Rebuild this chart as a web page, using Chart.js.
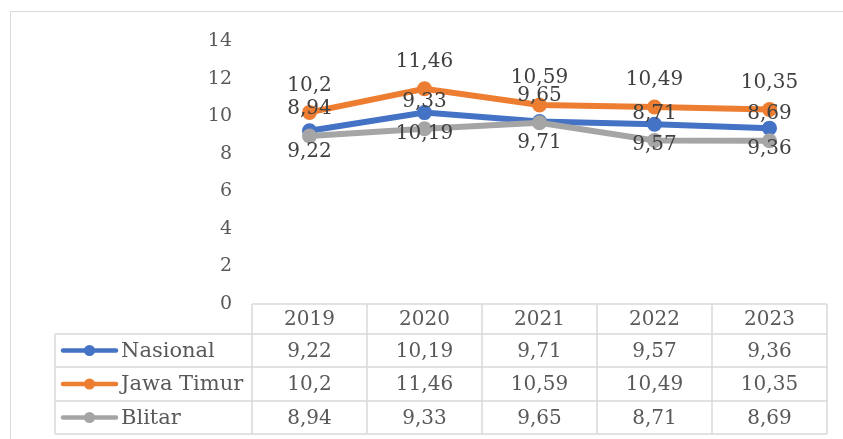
<!DOCTYPE html>
<html>
<head>
<meta charset="utf-8">
<script src="https://cdn.jsdelivr.net/npm/chart.js@4/dist/chart.umd.min.js"></script>
<style>
  html, body { margin: 0; padding: 0; background: #fff; }
  #wrap { width: 843px; height: 439px; }
</style>
</head>
<body>
<div id="wrap"><canvas id="chart" width="843" height="439"></canvas></div>
<script>
// data
const years = ["2019", "2020", "2021", "2022", "2023"];
const seriesNames = ["Nasional", "Jawa Timur", "Blitar"];
const nasional = [9.22, 10.19, 9.71, 9.57, 9.36];
const jawaTimur = [10.2, 11.46, 10.59, 10.49, 10.35];
const blitar = [8.94, 9.33, 9.65, 8.71, 8.69];
const yTicks = [0, 2, 4, 6, 8, 10, 12, 14];

const colors = ["#4472C4", "#ED7D31", "#A5A5A5"];
const allSeries = [nasional, jawaTimur, blitar];
const FONT = "DejaVu Serif";

// format like the source: comma decimal
function fmt(v) {
    return String(v).replace(".", ",");
}

// Light frame around the chart
const framePlugin = {
    id: "frame",
    beforeDraw(chart) {
        const ctx = chart.ctx;
        ctx.save();
        ctx.strokeStyle = "#d9d9d9";
        ctx.lineWidth = 1;
        ctx.strokeRect(10.5, 11.5, 845, 440);
        ctx.restore();
    }
};

// Data labels: Jawa Timur & Blitar above, Nasional below
const labelPlugin = {
    id: "labels",
    afterDatasetsDraw(chart) {
        const ctx = chart.ctx;
        ctx.save();
        ctx.font = "20px '" + FONT + "'";
        ctx.fillStyle = "#404040";
        ctx.textAlign = "center";
        ctx.textBaseline = "middle";
        chart.data.datasets.forEach((ds, i) => {
            const meta = chart.getDatasetMeta(i);
            meta.data.forEach((pt, j) => {
                const dy = ds.labelPos === "below" ? 20 : -28;
                ctx.fillText(fmt(ds.data[j]), pt.x, pt.y + dy + 1);
            });
        });
        ctx.restore();
    }
};

// Data table under the plot, columns from the x scale
const tablePlugin = {
    id: "dataTable",
    afterDraw(chart) {
        const ctx = chart.ctx;
        const x = chart.scales.x;
        const area = chart.chartArea;
        const half = (x.getPixelForValue(1) - x.getPixelForValue(0)) / 2;
        const rows = [304, 334, 367, 401, 434];
        const leftEdge = 55;

        ctx.save();
        ctx.strokeStyle = "#d9d9d9";
        ctx.lineWidth = 1.5;
        // horizontal lines
        rows.forEach((ry, r) => {
            ctx.beginPath();
            ctx.moveTo(r === 0 ? area.left : leftEdge, ry);
            ctx.lineTo(area.right, ry);
            ctx.stroke();
        });
        // vertical lines
        ctx.beginPath();
        ctx.moveTo(leftEdge, rows[1]);
        ctx.lineTo(leftEdge, rows[4]);
        ctx.stroke();
        for (let i = 0; i <= years.length; i++) {
            const cx = i < years.length ? x.getPixelForValue(i) - half : x.getPixelForValue(i - 1) + half;
            ctx.beginPath();
            ctx.moveTo(cx, rows[0]);
            ctx.lineTo(cx, rows[4]);
            ctx.stroke();
        }

        ctx.font = "20px '" + FONT + "'";
        ctx.fillStyle = "#595959";
        ctx.textBaseline = "middle";
        ctx.textAlign = "center";
        years.forEach((yr, i) => {
            ctx.fillText(yr, x.getPixelForValue(i), (rows[0] + rows[1]) / 2 + 1);
        });
        allSeries.forEach((vals, s) => {
            const my = (rows[s + 1] + rows[s + 2]) / 2 + 1;
            ctx.font = "20px '" + FONT + "'";
            vals.forEach((v, i) => {
                ctx.fillText(fmt(v), x.getPixelForValue(i), my);
            });
            // legend key
            ctx.strokeStyle = colors[s];
            ctx.lineWidth = 4.5;
            ctx.lineCap = "round";
            ctx.beginPath();
            ctx.moveTo(63, my - 1);
            ctx.lineTo(116, my - 1);
            ctx.stroke();
            ctx.fillStyle = colors[s];
            ctx.beginPath();
            ctx.arc(89.5, my - 1, 5.5, 0, Math.PI * 2);
            ctx.fill();
            ctx.fillStyle = "#595959";
            ctx.textAlign = "left";
            ctx.font = "21px '" + FONT + "'";
            ctx.fillText(seriesNames[s], 121, my);
            ctx.textAlign = "center";
        });
        ctx.restore();
    }
};

function makeDataset(i, labelPos, order) {
    return {
        label: seriesNames[i],
        data: allSeries[i],
        borderColor: colors[i],
        backgroundColor: colors[i],
        pointBackgroundColor: colors[i],
        pointBorderColor: colors[i],
        borderWidth: 6,
        pointRadius: 7.5,
        pointBorderWidth: 0,
        tension: 0,
        labelPos: labelPos,
        order: order
    };
}

new Chart(document.getElementById("chart"), {
    type: "line",
    data: {
        labels: years,
        datasets: [
            makeDataset(0, "below", 3),
            makeDataset(1, "above", 2),
            makeDataset(2, "above", 1)
        ]
    },
    options: {
        responsive: false,
        animation: false,
        layout: { padding: { left: 0, right: 16, top: 41, bottom: 135 } },
        plugins: {
            legend: { display: false },
            tooltip: { enabled: false }
        },
        scales: {
            x: {
                display: false,
                offset: true
            },
            y: {
                min: 0,
                max: 14,
                afterBuildTicks(scale) {
                    scale.ticks = yTicks.map(v => ({ value: v }));
                },
                afterFit(scale) {
                    scale.width = 252;
                },
                grid: { display: false, drawTicks: false },
                border: { display: false },
                ticks: {
                    padding: 20,
                    color: "#595959",
                    font: { family: FONT, size: 19 }
                }
            }
        }
    },
    plugins: [framePlugin, labelPlugin, tablePlugin]
});
</script>
</body>
</html>
